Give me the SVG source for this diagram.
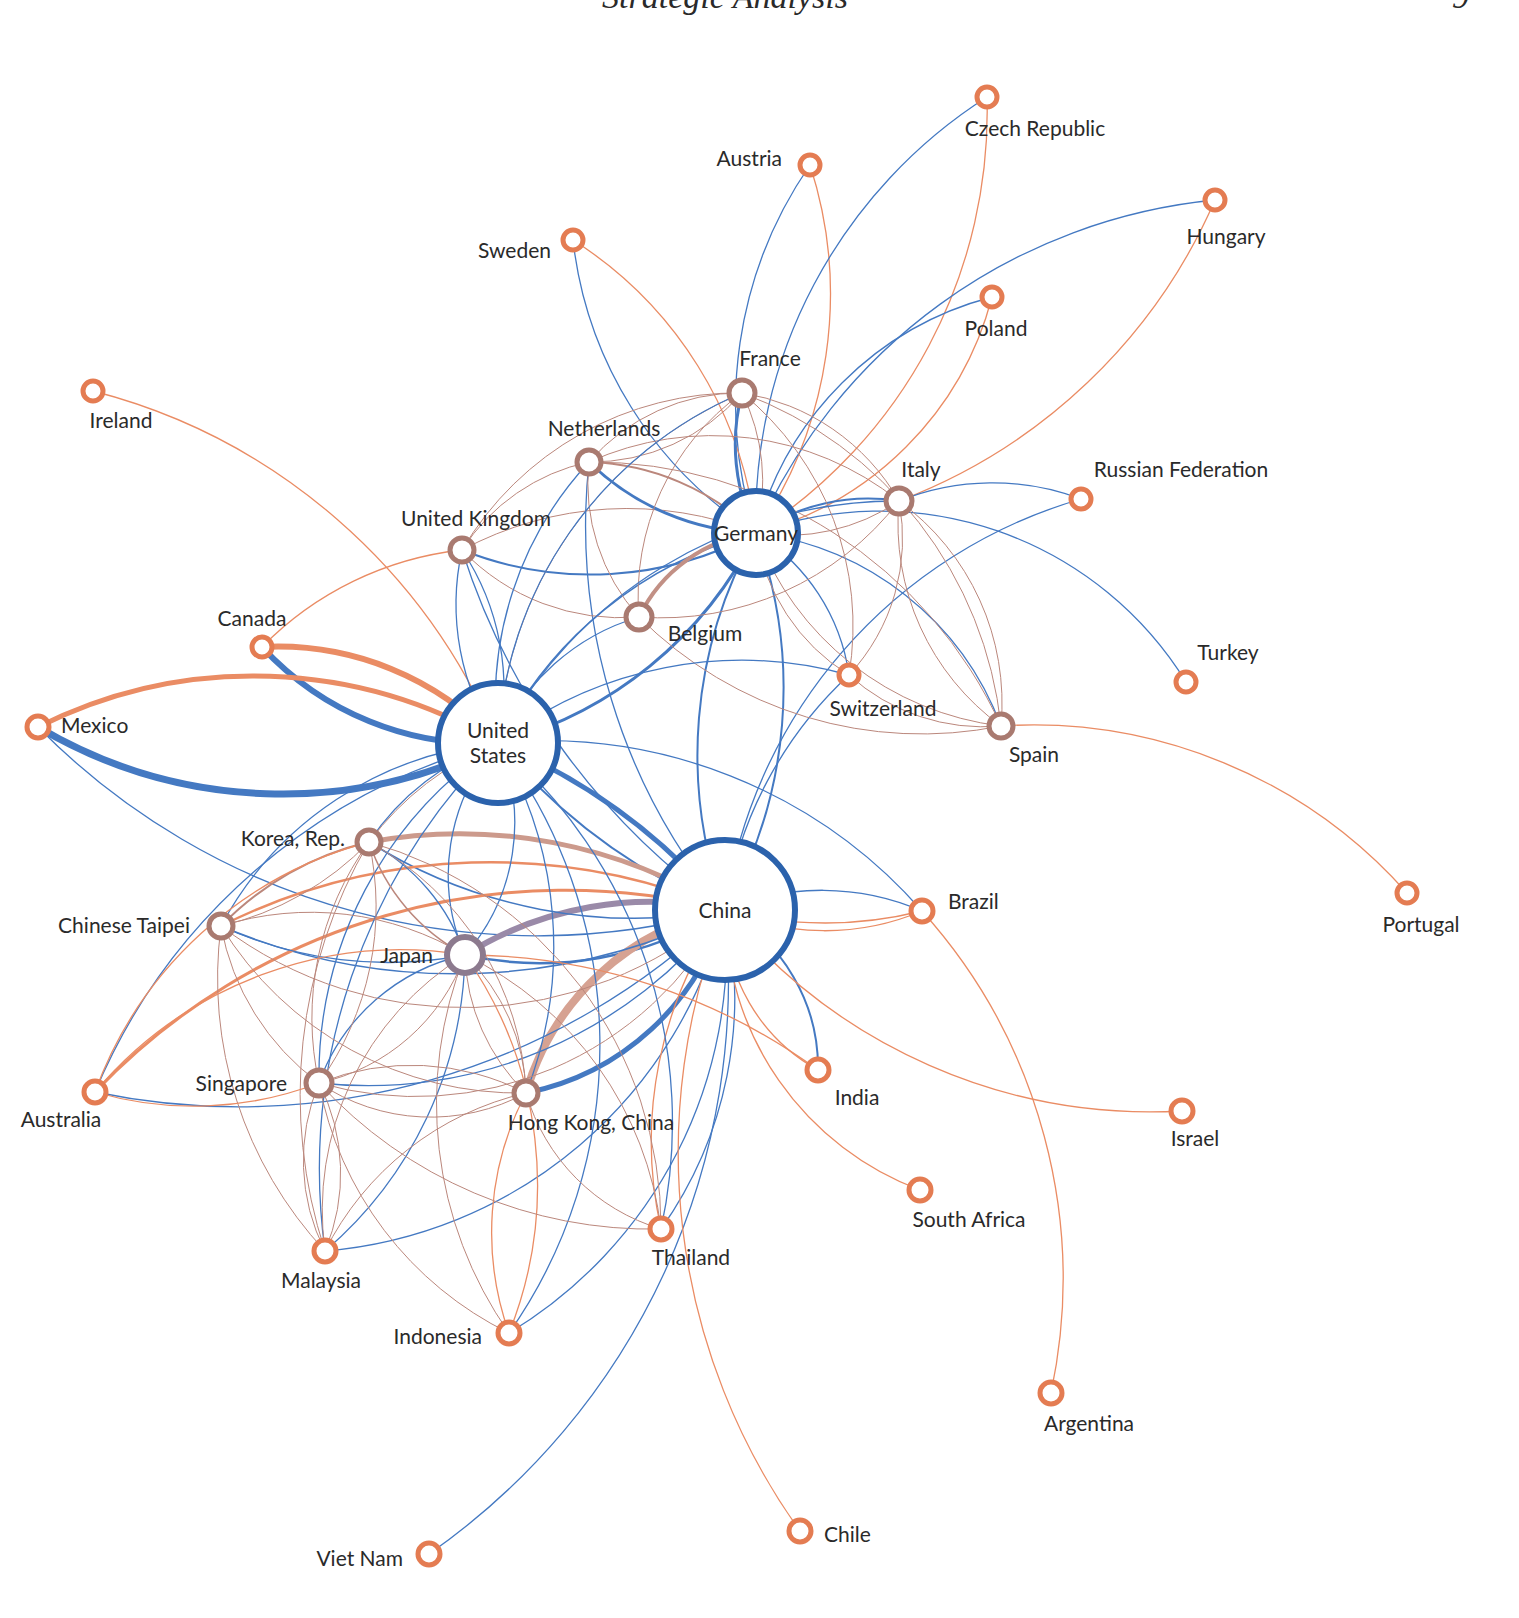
<svg xmlns="http://www.w3.org/2000/svg" width="1519" height="1618" viewBox="0 0 1519 1618">
<style>
path{fill:none}
.b{stroke:#4479c2;stroke-width:1.3}
.o{stroke:#ea8c64;stroke-width:1.3}
.r{stroke:#bb877c;stroke-width:1}
.no circle{fill:#fff;stroke:#e47c52;stroke-width:5}
.nb circle{fill:#fff;stroke:#a97a70;stroke-width:5}
.nc circle{fill:#fff;stroke:#2b62ac;stroke-width:6}
text{font-family:"Lato","Liberation Sans",sans-serif;font-size:21px;fill:#2a2a2a}
.h{font-family:"Liberation Serif",serif;font-style:italic;font-size:34px}
</style>
<rect width="1519" height="1618" fill="#fff"/>
<text class="h" x="725" y="8" text-anchor="middle">Strategic Analysis</text>
<text class="h" x="1452" y="8">9</text>
<g id="edges">
<!-- Americas -->
<path class="o" style="stroke-width:6" d="M262 647 A300 300 0 0 1 498 743"/>
<path class="b" style="stroke-width:6" d="M498 743 A300 300 0 0 1 262 647"/>
<path class="o" style="stroke-width:5" d="M38 727 A480 480 0 0 1 498 743"/>
<path class="b" style="stroke-width:7" d="M498 743 A480 480 0 0 1 38 727"/>
<path class="b" d="M38 727 A700 700 0 0 0 725 910"/>
<path class="o" d="M93 391 A600 600 0 0 1 498 743"/>
<path class="o" d="M262 647 A330 330 0 0 1 462 550"/>
<!-- US-China, Asia thick -->
<path class="b" style="stroke-width:5" d="M498 743 A600 600 0 0 1 725 910"/>
<path class="b" style="stroke-width:2" d="M725 910 A600 600 0 0 1 498 743"/>
<path style="stroke:#9a8aa8;stroke-width:6" d="M465 955 A350 350 0 0 1 725 910"/>
<path class="b" style="stroke-width:2.5" d="M725 910 A350 350 0 0 1 465 955"/>
<path style="stroke:#d6a292;stroke-width:8" d="M526 1093 A260 260 0 0 1 725 910"/>
<path class="b" style="stroke-width:5" d="M725 910 A260 260 0 0 1 526 1093"/>
<path style="stroke:#cc9a8c;stroke-width:5" d="M369 842 A500 500 0 0 1 725 910"/>
<path class="b" style="stroke-width:1.5" d="M725 910 A500 500 0 0 1 369 842"/>
<path class="o" style="stroke-width:2.5" d="M221 926 A600 600 0 0 1 725 910"/>
<path class="b" style="stroke-width:1.5" d="M725 910 A600 600 0 0 1 221 926"/>
<path class="o" style="stroke-width:3" d="M95 1092 A650 650 0 0 1 725 910"/>
<path class="b" d="M725 910 A700 700 0 0 1 95 1092"/>
<path class="b" d="M725 910 A450 450 0 0 1 319 1083"/>
<path class="b" d="M725 910 A450 450 0 0 1 325 1251"/>
<path class="b" d="M725 910 A450 450 0 0 1 509 1333"/>
<path class="b" d="M725 910 A400 400 0 0 1 661 1229"/>
<path class="o" d="M661 1229 A400 400 0 0 1 725 910"/>
<path class="b" d="M725 910 A700 700 0 0 1 429 1554"/>
<path class="o" d="M800 1531 A650 650 0 0 1 725 910"/>
<path class="b" style="stroke-width:2" d="M725 910 A180 180 0 0 1 818 1070"/>
<path class="o" d="M818 1070 A180 180 0 0 1 725 910"/>
<path class="o" d="M920 1190 A300 300 0 0 1 725 910"/>
<path class="o" d="M1182 1111 A550 550 0 0 1 725 910"/>
<path class="b" d="M725 910 A250 250 0 0 1 922 911"/>
<path class="o" d="M922 911 A250 250 0 0 1 725 910"/>
<path class="o" d="M922 911 A400 400 0 0 1 725 910"/>
<path class="o" d="M922 911 A550 550 0 0 1 1051 1393"/>
<path class="b" d="M498 743 A500 500 0 0 1 922 911"/>
<!-- US-Germany, Germany-China -->
<path class="b" style="stroke-width:3" d="M756 533 A400 400 0 0 1 498 743"/>
<path class="b" style="stroke-width:1.5" d="M498 743 A400 400 0 0 1 756 533"/>
<path class="b" style="stroke-width:2" d="M756 533 A450 450 0 0 1 725 910"/>
<path class="b" style="stroke-width:2" d="M725 910 A450 450 0 0 1 756 533"/>
<path class="b" d="M1081 499 A500 500 0 0 0 725 910"/>
<path class="b" d="M725 910 A700 700 0 0 1 462 550"/>
<path class="b" d="M725 910 A600 600 0 0 1 589 462"/>
<path class="b" d="M725 910 A400 400 0 0 1 849 675"/>
<!-- Europe periphery -->
<path class="b" d="M810 165 A420 420 0 0 0 756 533"/>
<path class="o" d="M810 165 A420 420 0 0 1 756 533"/>
<path class="b" d="M987 97 A500 500 0 0 0 756 533"/>
<path class="o" d="M987 97 A500 500 0 0 1 756 533"/>
<path class="b" d="M1215 200 A560 560 0 0 0 756 533"/>
<path class="o" d="M1215 200 A560 560 0 0 1 899 501"/>
<path class="b" d="M992 297 A330 330 0 0 0 756 533"/>
<path class="o" d="M992 297 A330 330 0 0 1 756 533"/>
<path class="b" d="M573 240 A400 400 0 0 0 756 533"/>
<path class="o" d="M573 240 A400 400 0 0 1 756 533"/>
<path class="b" d="M756 533 A360 360 0 0 1 1186 682"/>
<path class="b" d="M899 501 A250 250 0 0 1 1081 499"/>
<path class="o" d="M1407 893 A500 500 0 0 0 1001 726"/>
<!-- Germany core -->
<path class="b" style="stroke-width:2" d="M462 550 A350 350 0 0 0 756 533"/>
<path class="r" d="M756 533 A350 350 0 0 0 462 550"/>
<path class="b" style="stroke-width:3" d="M589 462 A250 250 0 0 0 756 533"/>
<path class="r" style="stroke-width:2" d="M756 533 A250 250 0 0 0 589 462"/>
<path class="b" style="stroke-width:3" d="M742 393 A200 200 0 0 0 756 533"/>
<path class="r" d="M742 393 A200 200 0 0 1 756 533"/>
<path class="b" style="stroke-width:2" d="M756 533 A200 200 0 0 1 899 501"/>
<path class="r" d="M899 501 A200 200 0 0 1 756 533"/>
<path style="stroke:#c29085;stroke-width:4" d="M639 617 A150 150 0 0 1 756 533"/>
<path class="b" d="M756 533 A200 200 0 0 1 849 675"/>
<path class="r" d="M849 675 A200 200 0 0 1 756 533"/>
<path class="b" d="M756 533 A300 300 0 0 1 1001 726"/>
<path class="r" d="M1001 726 A300 300 0 0 1 756 533"/>
<!-- Europe brown mesh -->
<path class="r" d="M742 393 A200 200 0 0 0 589 462"/>
<path class="r" d="M589 462 A200 200 0 0 0 742 393"/>
<path class="r" d="M742 393 A220 220 0 0 1 899 501"/>
<path class="r" d="M742 393 A320 320 0 0 0 462 550"/>
<path class="r" d="M742 393 A250 250 0 0 0 639 617"/>
<path class="r" d="M742 393 A400 400 0 0 1 1001 726"/>
<path class="r" d="M742 393 A300 300 0 0 1 849 675"/>
<path class="r" d="M742 393 A400 400 0 0 0 498 743"/>
<path class="r" d="M589 462 A200 200 0 0 0 462 550"/>
<path class="r" d="M589 462 A200 200 0 0 0 639 617"/>
<path class="r" d="M589 462 A300 300 0 0 1 899 501"/>
<path class="r" d="M589 462 A450 450 0 0 1 1001 726"/>
<path class="r" d="M899 501 A250 250 0 0 1 1001 726"/>
<path class="r" d="M1001 726 A250 250 0 0 1 899 501"/>
<path class="r" d="M899 501 A200 200 0 0 1 849 675"/>
<path class="r" d="M462 550 A220 220 0 0 0 639 617"/>
<path class="r" d="M639 617 A400 400 0 0 0 1001 726"/>
<path class="r" d="M849 675 A200 200 0 0 0 1001 726"/>
<path class="r" d="M639 617 A300 300 0 0 0 899 501"/>
<!-- US to Europe -->
<path class="b" d="M498 743 A250 250 0 0 1 462 550"/>
<path class="b" d="M462 550 A250 250 0 0 1 498 743"/>
<path class="b" d="M498 743 A350 350 0 0 1 589 462"/>
<path class="b" d="M498 743 A400 400 0 0 1 742 393"/>
<path class="b" d="M498 743 A220 220 0 0 1 639 617"/>
<path class="b" d="M498 743 A450 450 0 0 1 899 501"/>
<path class="b" d="M498 743 A400 400 0 0 1 849 675"/>
<!-- US to Asia -->
<path class="b" d="M498 743 A200 200 0 0 0 465 955"/>
<path class="b" d="M498 743 A200 200 0 0 1 465 955"/>
<path class="b" d="M498 743 A250 250 0 0 0 369 842"/>
<path class="b" d="M498 743 A350 350 0 0 0 221 926"/>
<path class="b" d="M498 743 A400 400 0 0 0 319 1083"/>
<path class="b" d="M498 743 A400 400 0 0 1 526 1093"/>
<path class="b" d="M498 743 A600 600 0 0 0 325 1251"/>
<path class="b" d="M498 743 A500 500 0 0 1 509 1333"/>
<path class="b" d="M498 743 A500 500 0 0 1 661 1229"/>
<path class="b" d="M498 743 A600 600 0 0 0 95 1092"/>
<path class="r" d="M369 842 A300 300 0 0 1 498 743"/>
<!-- Asia mesh -->
<path class="r" style="stroke-width:1.5" d="M369 842 A200 200 0 0 0 465 955"/>
<path class="b" d="M465 955 A200 200 0 0 0 369 842"/>
<path class="r" d="M221 926 A300 300 0 0 1 465 955"/>
<path class="b" d="M465 955 A400 400 0 0 1 221 926"/>
<path class="r" d="M465 955 A200 200 0 0 1 319 1083"/>
<path class="b" d="M319 1083 A200 200 0 0 1 465 955"/>
<path class="r" d="M465 955 A200 200 0 0 1 526 1093"/>
<path class="r" d="M526 1093 A200 200 0 0 1 465 955"/>
<path class="r" d="M465 955 A300 300 0 0 0 325 1251"/>
<path class="b" d="M325 1251 A400 400 0 0 0 465 955"/>
<path class="r" d="M465 955 A400 400 0 0 0 509 1333"/>
<path class="o" d="M509 1333 A400 400 0 0 0 465 955"/>
<path class="r" d="M465 955 A350 350 0 0 1 661 1229"/>
<path class="r" style="stroke-width:2" d="M369 842 A300 300 0 0 0 221 926"/>
<path class="r" d="M221 926 A300 300 0 0 0 369 842"/>
<path class="r" d="M369 842 A300 300 0 0 0 319 1083"/>
<path class="r" d="M319 1083 A300 300 0 0 0 369 842"/>
<path class="r" d="M369 842 A300 300 0 0 1 526 1093"/>
<path class="r" d="M369 842 A400 400 0 0 1 661 1229"/>
<path class="r" d="M369 842 A500 500 0 0 0 325 1251"/>
<path class="r" d="M221 926 A250 250 0 0 0 319 1083"/>
<path class="r" d="M221 926 A350 350 0 0 0 526 1093"/>
<path class="r" d="M221 926 A400 400 0 0 0 325 1251"/>
<path class="r" d="M319 1083 A200 200 0 0 0 325 1251"/>
<path class="r" d="M325 1251 A200 200 0 0 0 319 1083"/>
<path class="r" d="M319 1083 A200 200 0 0 0 526 1093"/>
<path class="r" d="M526 1093 A250 250 0 0 0 319 1083"/>
<path class="r" d="M319 1083 A350 350 0 0 0 509 1333"/>
<path class="r" d="M526 1093 A200 200 0 0 0 661 1229"/>
<path class="r" d="M526 1093 A300 300 0 0 0 325 1251"/>
<path class="o" d="M526 1093 A300 300 0 0 0 509 1333"/>
<path class="r" d="M319 1083 A450 450 0 0 0 661 1229"/>
<path class="o" d="M95 1092 A400 400 0 0 1 465 955"/>
<path class="o" d="M95 1092 A400 400 0 0 1 369 842"/>
<path class="o" d="M319 1083 A350 350 0 0 1 95 1092"/>
<path class="r" d="M725 910 A350 350 0 0 1 319 1083"/>
<path class="r" d="M725 910 A400 400 0 0 1 221 926"/>
<path class="o" d="M818 1070 A600 600 0 0 0 465 955"/>
</g>
<g id="n-czech" class="no"><circle cx="987" cy="97" r="10"/><text x="1035" y="136" text-anchor="middle">Czech Republic</text></g>
<g id="n-austria" class="no"><circle cx="810" cy="165" r="10"/><text x="782" y="166" text-anchor="end">Austria</text></g>
<g id="n-hungary" class="no"><circle cx="1215" cy="200" r="10"/><text x="1226" y="244" text-anchor="middle">Hungary</text></g>
<g id="n-sweden" class="no"><circle cx="573" cy="240" r="10"/><text x="551" y="258" text-anchor="end">Sweden</text></g>
<g id="n-poland" class="no"><circle cx="992" cy="297" r="10"/><text x="996" y="336" text-anchor="middle">Poland</text></g>
<g id="n-france" class="nb"><circle cx="742" cy="393" r="13"/><text x="770" y="366" text-anchor="middle">France</text></g>
<g id="n-ireland" class="no"><circle cx="93" cy="391" r="10"/><text x="121" y="428" text-anchor="middle">Ireland</text></g>
<g id="n-netherlands" class="nb"><circle cx="589" cy="462" r="12"/><text x="604" y="436" text-anchor="middle">Netherlands</text></g>
<g id="n-italy" class="nb"><circle cx="899" cy="501" r="13"/><text x="921" y="477" text-anchor="middle">Italy</text></g>
<g id="n-russia" class="no"><circle cx="1081" cy="499" r="10"/><text x="1181" y="477" text-anchor="middle">Russian Federation</text></g>
<g id="n-uk" class="nb"><circle cx="462" cy="550" r="12"/><text x="476" y="526" text-anchor="middle">United Kingdom</text></g>
<g id="n-belgium" class="nb"><circle cx="639" cy="617" r="13"/><text x="705" y="641" text-anchor="middle">Belgium</text></g>
<g id="n-canada" class="no"><circle cx="262" cy="647" r="10"/><text x="252" y="626" text-anchor="middle">Canada</text></g>
<g id="n-turkey" class="no"><circle cx="1186" cy="682" r="10"/><text x="1228" y="660" text-anchor="middle">Turkey</text></g>
<g id="n-switzerland" class="no"><circle cx="849" cy="675" r="10"/><text x="883" y="716" text-anchor="middle">Switzerland</text></g>
<g id="n-mexico" class="no"><circle cx="38" cy="727" r="11"/><text x="61" y="733">Mexico</text></g>
<g id="n-spain" class="nb"><circle cx="1001" cy="726" r="12"/><text x="1034" y="762" text-anchor="middle">Spain</text></g>
<g id="n-korea" class="nb"><circle cx="369" cy="842" r="12"/><text x="345" y="846" text-anchor="end">Korea, Rep.</text></g>
<g id="n-brazil" class="no"><circle cx="922" cy="911" r="11"/><text x="948" y="909">Brazil</text></g>
<g id="n-portugal" class="no"><circle cx="1407" cy="893" r="10"/><text x="1421" y="932" text-anchor="middle">Portugal</text></g>
<g id="n-taipei" class="nb"><circle cx="221" cy="926" r="12"/><text x="190" y="933" text-anchor="end">Chinese Taipei</text></g>
<g id="n-india" class="no"><circle cx="818" cy="1070" r="11"/><text x="857" y="1105" text-anchor="middle">India</text></g>
<g id="n-australia" class="no"><circle cx="95" cy="1092" r="11"/><text x="61" y="1127" text-anchor="middle">Australia</text></g>
<g id="n-singapore" class="nb"><circle cx="319" cy="1083" r="13"/><text x="287" y="1091" text-anchor="end">Singapore</text></g>
<g id="n-hongkong" class="nb"><circle cx="526" cy="1093" r="12"/><text x="591" y="1130" text-anchor="middle">Hong Kong, China</text></g>
<g id="n-israel" class="no"><circle cx="1182" cy="1111" r="11"/><text x="1195" y="1146" text-anchor="middle">Israel</text></g>
<g id="n-southafrica" class="no"><circle cx="920" cy="1190" r="11"/><text x="969" y="1227" text-anchor="middle">South Africa</text></g>
<g id="n-thailand" class="no"><circle cx="661" cy="1229" r="11"/><text x="691" y="1265" text-anchor="middle">Thailand</text></g>
<g id="n-malaysia" class="no"><circle cx="325" cy="1251" r="11"/><text x="321" y="1288" text-anchor="middle">Malaysia</text></g>
<g id="n-indonesia" class="no"><circle cx="509" cy="1333" r="11"/><text x="482" y="1344" text-anchor="end">Indonesia</text></g>
<g id="n-argentina" class="no"><circle cx="1051" cy="1393" r="11"/><text x="1089" y="1431" text-anchor="middle">Argentina</text></g>
<g id="n-chile" class="no"><circle cx="800" cy="1531" r="11"/><text x="824" y="1542">Chile</text></g>
<g id="n-vietnam" class="no"><circle cx="429" cy="1554" r="11"/><text x="403" y="1566" text-anchor="end">Viet Nam</text></g>
<g id="n-japan"><circle cx="465" cy="955" r="18" fill="#fff" stroke="#8c7a8e" stroke-width="6"/><text x="433" y="963" text-anchor="end">Japan</text></g>
<g id="n-germany" class="nc"><circle cx="756" cy="533" r="42"/><text x="756" y="541" text-anchor="middle">Germany</text></g>
<g id="n-us" class="nc"><circle cx="498" cy="743" r="60"/><text x="498" y="738" text-anchor="middle">United</text><text x="498" y="763" text-anchor="middle">States</text></g>
<g id="n-china" class="nc"><circle cx="725" cy="910" r="70"/><text x="725" y="918" text-anchor="middle">China</text></g>
</svg>
